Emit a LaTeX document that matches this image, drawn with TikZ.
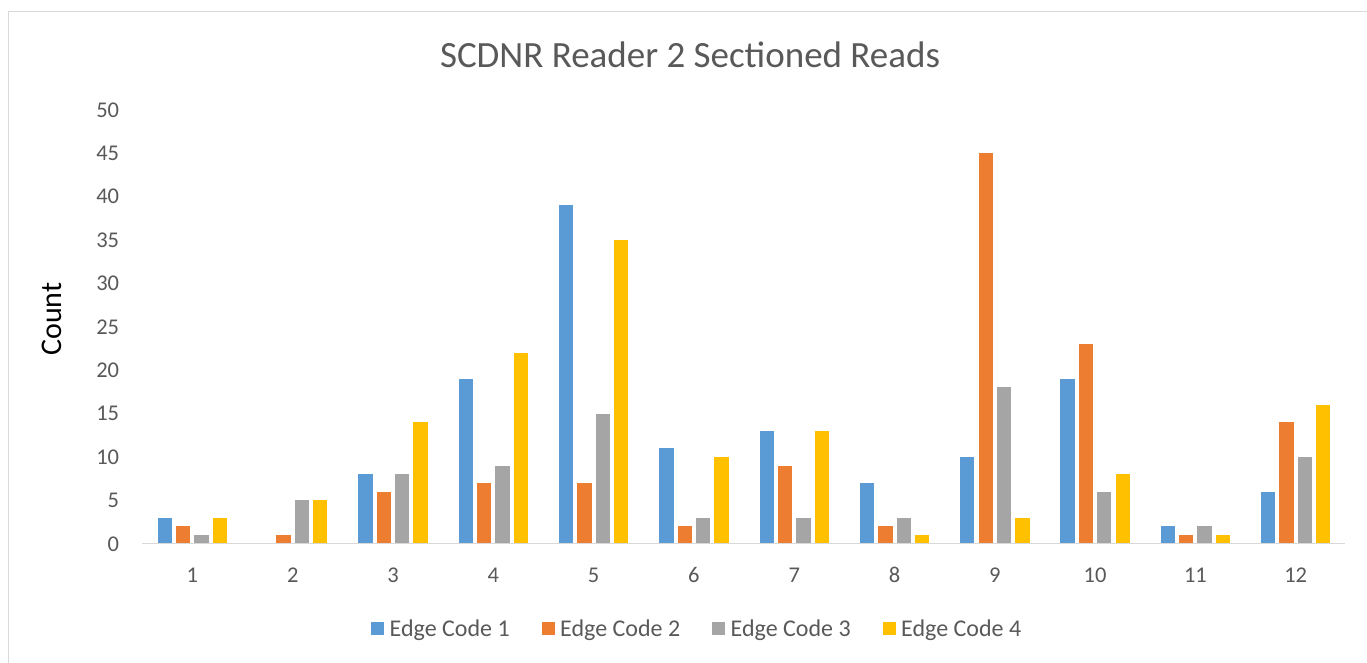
\documentclass[tikz,border=0pt]{standalone}
\usepackage{fontspec}
\setmainfont{Carlito}
\definecolor{cA}{HTML}{5B9BD5}
\definecolor{cB}{HTML}{ED7D31}
\definecolor{cC}{HTML}{A5A5A5}
\definecolor{cD}{HTML}{FFC000}
\definecolor{txt}{HTML}{595959}
\definecolor{frame}{HTML}{D9D9D9}
\begin{document}
\begin{tikzpicture}[x=1pt,y=-1pt,
  ticklab/.style={text=txt,font=\fontsize{22.5}{25}\selectfont,inner sep=0pt},
  leglab/.style={text=txt,font=\fontsize{24}{26}\selectfont,inner sep=0pt,anchor=base west}]
\useasboundingbox (0,0) rectangle (1367,662);
\fill[white] (0,0) rectangle (1367,662);
\draw[frame,line width=1.2pt] (8.5,700) -- (8.5,11.5) -- (1400,11.5);
% title
\node[text=txt,font=\fontsize{37}{40}\selectfont,anchor=base,inner sep=0pt] (title) at (690,67) {SCDNR Reader 2 Sectioned Reads};
% y label
\node[rotate=90,font=\fontsize{30}{32}\selectfont,anchor=base,inner sep=0pt] (ylab) at (61.5,319) {Count};
% y tick labels
\foreach \v in {0,5,...,50}{
  \node[ticklab,anchor=base east] (yt\v) at (119.3,{543.7-8.68*\v+7.4}) {\v};
}
% bars
\foreach \i/\a/\b/\c/\d in {1/3/2/1/3,2/0/1/5/5,3/8/6/8/14,4/19/7/9/22,5/39/7/15/35,6/11/2/3/10,7/13/9/3/13,8/7/2/3/1,9/10/45/18/3,10/19/23/6/8,11/2/1/2/1,12/6/14/10/16}{
  \pgfmathsetmacro{\cx}{192.4+(\i-1)*100.3}
  \ifnum\a>0 \fill[cA] ({\cx-34.65},543.7) rectangle ({\cx-34.65+14.3},{543.7-8.68*\a}); \fi
  \fill[cB] ({\cx-34.65+18.35},543.7) rectangle ({\cx-34.65+18.35+14.3},{543.7-8.68*\b});
  \fill[cC] ({\cx-34.65+36.7},543.7) rectangle ({\cx-34.65+36.7+14.3},{543.7-8.68*\c});
  \fill[cD] ({\cx-34.65+55.05},543.7) rectangle ({\cx-34.65+55.05+14.3},{543.7-8.68*\d});
  \node[ticklab,anchor=base] (xt\i) at (\cx,582.3) {\i};
}
% axis line
\draw[frame,line width=1.3pt] (142,543.7) coordinate (ax0) -- (1345,543.7) coordinate (ax1);
% legend
\foreach \k/\col/\xx in {1/cA/371,2/cB/541.5,3/cC/712,4/cD/882.5}{
  \fill[\col] (\xx,622) rectangle ({\xx+13},635);
  \node[leglab] (l\k) at ({\xx+18.5},636) {Edge Code \k};
}
\end{tikzpicture}
\end{document}
